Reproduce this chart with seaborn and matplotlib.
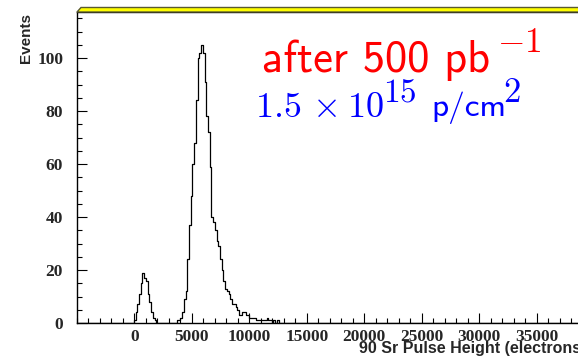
import matplotlib
matplotlib.use("Agg")
import matplotlib.pyplot as plt
from matplotlib.patches import Polygon
from matplotlib.ticker import MultipleLocator
import numpy as np
import pandas as pd
import seaborn as sns

# histogram: 300 bins of 150 electrons from -5000 to 40000
x_min, x_max = -5000, 40000
bin_width = 150
first_edge = -50          # left edge of the first listed bin
counts = [1, 4, 7, 11, 15, 19, 17, 16, 11, 8, 4, 2, 1, 0,
          0, 0, 0, 0, 0, 0, 0, 0, 0, 0, 0,
          1, 1, 2, 4, 9, 12, 24, 37, 48, 60, 68, 84, 100, 102, 105, 102,
          91, 78, 72, 59, 40, 38, 35, 31, 29, 24, 20, 16, 13, 12, 11, 9,
          7, 7, 6, 5, 3, 3, 4, 4, 3, 3, 2, 2, 2, 2, 1, 1, 1, 1, 1, 1,
          2, 1, 1, 0, 1, 0, 1, 0]
y_top = 117.4

x_ticks = [0, 5000, 10000, 15000, 20000, 25000, 30000, 35000]
y_ticks = [0, 20, 40, 60, 80, 100]

df = pd.DataFrame({
    "center": first_edge + bin_width * (np.arange(len(counts)) + 0.5),
    "count": counts,
})

sns.set_style("ticks")
plt.rcParams["font.family"] = ["Liberation Serif", "DejaVu Serif"]
plt.rcParams["mathtext.fontset"] = "cm"

W, H = 578, 362
fig = plt.figure(figsize=(W / 100, H / 100), dpi=100)
# frame: left 77px, bottom 323px, top 12px, right edge runs past the picture
ax = fig.add_axes([77 / W, (H - 323) / H, (594 - 77) / W, (323 - 12) / H])

sns.histplot(data=df, x="center", weights="count", binwidth=bin_width,
             binrange=(x_min, x_max), element="step", fill=False,
             color="black", linewidth=0.9, ax=ax)

ax.set_xlim(x_min, x_max)
ax.set_ylim(0, y_top)
ax.set_xticks(x_ticks)
ax.set_yticks(y_ticks)
ax.xaxis.set_minor_locator(MultipleLocator(1000))
ax.yaxis.set_minor_locator(MultipleLocator(5))
ax.tick_params(which="both", direction="in", width=0.8, color="black")
ax.tick_params(which="major", length=7)
ax.tick_params(which="minor", length=3.6)
ax.tick_params(axis="y", which="major", pad=10, labelsize=12.5)
ax.tick_params(axis="x", which="major", pad=4, labelsize=12.5)
for lab in ax.get_xticklabels() + ax.get_yticklabels():
    lab.set_fontweight("bold")
ax.set_xlabel("")
ax.set_ylabel("")
for side in ["left", "bottom", "top"]:
    ax.spines[side].set_linewidth(1.0)
    ax.spines[side].set_color("black")
ax.spines["right"].set_visible(False)

# yellow border strip on top of the frame
h = 4.5 / 311
s = 4 / 517
band = Polygon([(0, 1), (s, 1 + h), (1, 1 + h), (1, 1)], closed=True,
               transform=ax.transAxes, clip_on=False,
               facecolor="#ffff00", edgecolor="#5a5a30", linewidth=1.0,
               zorder=5)
ax.add_patch(band)


def px_text(x, y, txt, **kw):
    # place a text by its pixel position (from the top-left corner)
    fig.text(x / W, (H - y) / H, txt, ha="left", va="baseline", **kw)


fig.text(26 / W, (H - 13) / H, "Events", rotation=90, ha="center", va="top",
         fontsize=11, fontweight="bold", family="Liberation Sans")
px_text(359, 353, "90 Sr Pulse Height (electrons)", fontsize=11.5,
        fontweight="bold", family="Liberation Sans")

red = "#ff0000"
px_text(262, 72, "after 500 pb", color=red, fontsize=32, family="cmss10")
px_text(497, 52, r"$-1$", color=red, fontsize=25.5)

blue = "#0000ff"
px_text(255, 117, r"$1.5$", color=blue, fontsize=26)
px_text(312, 117, r"$\times$", color=blue, fontsize=26)
px_text(347, 117, r"$10$", color=blue, fontsize=26)
px_text(383, 102, r"$15$", color=blue, fontsize=24)
px_text(431, 116.5, "p/cm", color=blue, fontsize=24, family="cmss10")
px_text(503, 102, r"$2$", color=blue, fontsize=25)

fig.savefig("out.png", dpi=100)
